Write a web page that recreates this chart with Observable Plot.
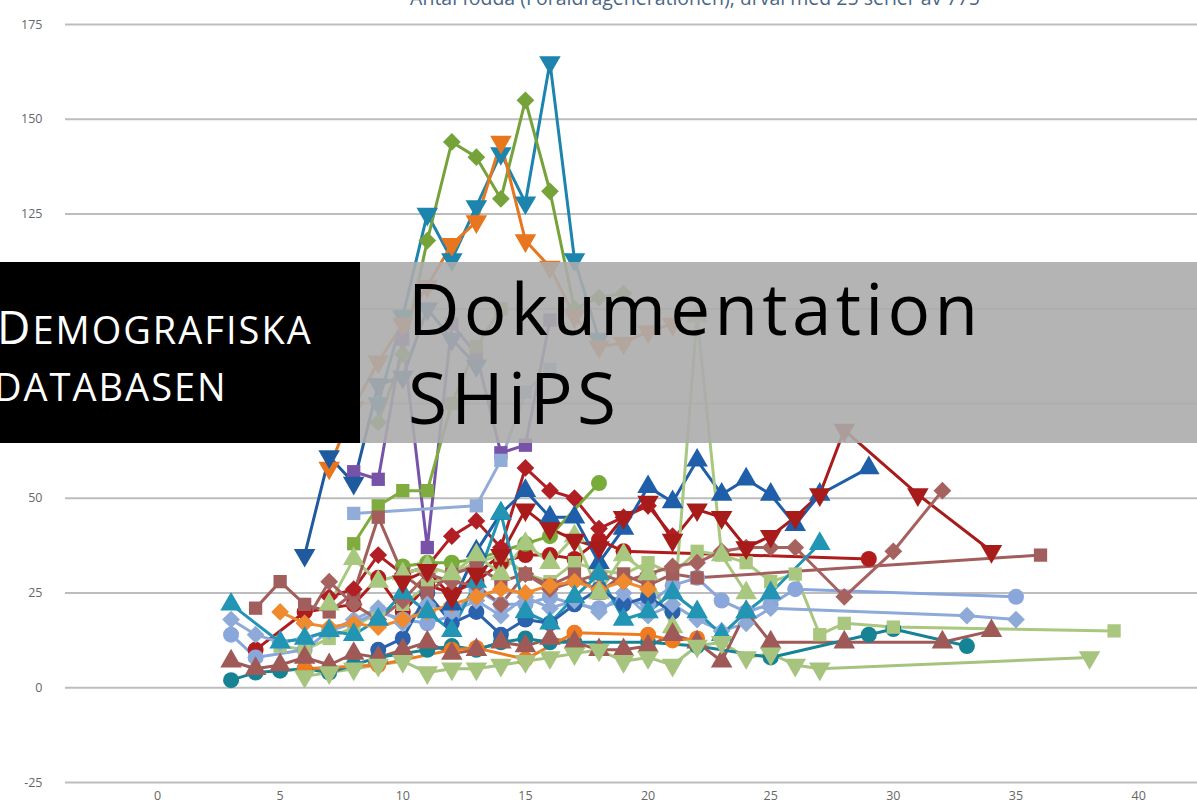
<!DOCTYPE html>
<html>
<head>
<meta charset="utf-8">
<script src="https://cdn.jsdelivr.net/npm/d3@7"></script>
<script src="https://cdn.jsdelivr.net/npm/@observablehq/plot@0.6"></script>
<style>
  html, body { margin: 0; padding: 0; background: #fff; }
  #wrap { position: relative; width: 1197px; height: 806px; overflow: hidden; font-family: "Open Sans", "DejaVu Sans", sans-serif; }
  #chart { position: absolute; left: 0; top: 0; }
  #title { position: absolute; left: 360px; width: 670px; top: -14px; text-align: center; font-size: 19.5px; color: #4a6684; white-space: nowrap; line-height: 1.2; }
  #black { position: absolute; left: 0; top: 262px; width: 360px; height: 181px; background: #000; }
  #grey { position: absolute; left: 360px; top: 262px; width: 837px; height: 181px; background: rgba(172,172,172,0.9); }
  .demo { position: absolute; color: #fff; font-family: "Open Sans", "DejaVu Sans", sans-serif; white-space: nowrap; letter-spacing: 2px; line-height: 0.8; }
  .big { position: absolute; color: #000; font-family: "Open Sans", "DejaVu Sans", sans-serif; white-space: nowrap; font-size: 71px; letter-spacing: 4.3px; line-height: 1; }
</style>
</head>
<body>
<div id="wrap">
  <div id="chart"></div>
  <div id="title">Antal födda (Föräldragenerationen), urval med 25 serier av 775</div>
  <div id="black"></div>
  <div id="grey"></div>
  <div class="demo" style="left:-3px; top:308px; font-size:38px;"><span style="font-size:46px">D</span>EMOGRAFISKA</div>
  <div class="demo" style="left:-6px; top:371px; font-size:38px;">DATABASEN</div>
  <div class="big" style="left:408px; top:272px;">Dokumentation</div>
  <div class="big" style="left:408px; top:361px;">SHiPS</div>
</div>
<script>
// ---- Data ----
const xTicks = [0, 5, 10, 15, 20, 25, 30, 35, 40];
const yTicks = [-25, 0, 25, 50, 75, 100, 125, 150, 175];

const seriesNames = ["s01","s02","s03","s04","s05","s06","s07","s08","s09","s10","s11","s12","s13",
                     "s14","s15","s16","s17","s18","s19","s20","s21","s22","s23","s24","s25"];
const seriesColors = ["#1c84ad","#76a23a","#e8761f","#1f5a9e","#7752a8","#92acd8","#b11f25","#a81b1b",
                      "#1f5ea8","#b01c1c","#79ab3a","#80ac3f","#a6c47e","#a9c77f","#a8c880","#8aa7dc",
                      "#8eaad9","#a15e5c","#a5625f","#9f5a58","#168394","#ee7b1f","#2295b4","#2a62ad","#f08a2e"];
const seriesShapes = ["down","diamond","down","down","square","square","diamond","down","up","circle",
                      "circle","square","down","square","up","circle","diamond","square","diamond","up",
                      "circle","circle","up","circle","diamond"];

const s01 = [[9,75],[10,98],[11,125],[12,113],[13,127],[14,141],[15,128],[16,165],[17,113],[18,92]];
const s02 = [[9,70],[10,88],[11,118],[12,144],[13,140],[14,129],[15,155],[16,131],[17,100],[18,103],[19,104]];
const s03 = [[7,58],[8,74],[9,86],[10,96],[11,106],[12,117],[13,123],[14,144],[15,118],[16,111],[17,98],[18,90],[19,91],[20,94],[21,96]];
const s04 = [[6,35],[7,61],[8,54],[9,80],[10,82],[11,100],[12,92],[13,85]];
const s05 = [[8,57],[9,55],[10,92],[11,37],[12,96],[13,88],[14,62],[15,64],[16,97]];
const s06 = [[8,46],[13,48],[14,60],[15,78],[16,84]];
const s07 = [[7,24],[8,26],[9,35],[10,30],[11,32],[12,40],[13,44],[14,37],[15,58],[16,52],[17,50],[18,42],[19,45],[20,48],[21,40]];
const s08 = [[10,28],[11,31],[12,24],[13,30],[14,35],[15,47],[16,42],[17,39],[18,37],[19,45],[20,49],[21,39],[22,47],[23,45],[24,37],[25,40],[26,45],[27,51],[28,68],[31,51],[34,36]];
const s09 = [[12,22],[13,36],[14,46],[15,52],[16,45],[17,45],[18,33],[19,42],[20,53],[21,49],[22,60],[23,51],[24,55],[25,51],[26,43],[27,51],[29,58]];
const s10 = [[4,10],[6,20],[8,22],[9,29],[10,20],[11,27],[12,25],[13,28],[14,33],[15,35],[16,35],[17,34],[18,39],[19,36],[29,34]];
const s11 = [[10,32],[11,33],[12,33],[13,34],[14,36],[15,38],[16,40],[18,54]];
const s12 = [[8,38],[9,48],[10,52],[11,52],[12,75],[13,90],[14,100]];
const s13 = [[6,3],[7,4],[8,5],[9,6],[10,7],[11,4],[12,5],[13,5],[14,6],[15,7],[16,8],[17,9],[18,10],[19,7],[20,8],[21,6],[22,11],[23,12],[24,8],[25,9],[26,6],[27,5],[38,8]];
const s14 = [[5,11],[6,10],[7,13],[8,16],[9,20],[10,22],[11,27],[12,30],[13,33],[14,35],[15,30],[16,28],[17,33],[18,31],[19,30],[20,33],[21,30],[22,36],[23,35],[24,33],[25,28],[26,30],[27,14],[28,17],[30,16],[39,15]];
const s15 = [[7,22],[8,34],[9,28],[10,30],[11,32],[12,30],[13,35],[14,30],[15,38],[16,33],[17,40],[18,25],[19,35],[20,30],[21,16],[22,98],[23,35],[24,25]];
const s16 = [[3,14],[4,8],[6,10],[7,15],[8,17],[9,20],[10,18],[11,17],[12,19],[13,26],[14,22],[15,22],[16,24],[17,22],[18,21],[19,23],[20,22],[21,27],[22,29],[23,23],[24,20],[25,22],[26,26],[35,24]];
const s17 = [[3,18],[4,14],[5,12],[6,13],[7,15],[8,18],[9,21],[10,17],[11,22],[12,20],[13,23],[14,19],[15,24],[16,21],[17,23],[18,20],[19,25],[20,19],[21,22],[22,18],[23,15],[24,17],[25,21],[33,19],[35,18]];
const s18 = [[4,21],[5,28],[6,22],[7,20],[8,25],[9,45],[10,30],[11,25],[12,30],[13,32],[14,28],[15,30],[16,27],[17,30],[18,25],[19,30],[20,27],[21,30],[22,29],[36,35]];
const s19 = [[6,17],[7,28],[8,22],[9,18],[10,23],[11,30],[12,28],[13,27],[14,22],[15,30],[16,26],[17,28],[18,30],[19,28],[20,30],[21,32],[22,33],[23,36],[24,37],[25,37],[26,37],[28,24],[30,36],[32,52]];
const s20 = [[3,7],[4,5],[5,6],[6,8],[7,6],[8,9],[9,8],[10,10],[11,12],[12,9],[13,10],[14,12],[15,11],[16,13],[17,12],[18,10],[19,10],[20,11],[21,14],[22,12],[23,7],[24,20],[25,12],[28,12],[32,12],[34,15]];
const s21 = [[3,2],[4,4],[5,4.5],[6,5],[7,4],[8,6],[9,8],[10,9],[11,10],[12,11],[13,10],[14,12],[15,13],[16,12],[17,12],[20,12],[22,11],[25,8],[29,14],[30,15.5],[33,11]];
const s22 = [[6,5],[9,6],[12,10],[13,10.5],[15,7.5],[17,14.5],[20,14],[21,12.5],[22,13]];
const s23 = [[3,22],[5,12],[6,13],[7,15],[8,14],[9,18],[10,25],[11,20],[12,15],[13,28],[14,46],[15,20],[16,17],[17,24],[18,30],[19,18],[20,20],[21,25],[22,20],[23,14],[24,20],[25,25],[27,38]];
const s24 = [[9,10],[10,13],[11,25],[12,17],[13,20],[14,14],[15,18],[16,17],[17,22],[18,26],[19,22],[20,24],[21,20]];
const s25 = [[5,20],[6,17],[7,16],[8,17],[9,16],[10,18],[11,20],[12,22],[13,24],[14,26],[15,25],[16,27],[17,28],[18,26],[19,28],[20,26]];

const seriesData = [s01,s02,s03,s04,s05,s06,s07,s08,s09,s10,s11,s12,s13,s14,s15,s16,s17,s18,s19,s20,s21,s22,s23,s24,s25];

// ---- Build a tidy table ----
const rows = [];
seriesData.forEach((pts, i) => {
  pts.forEach(([x, y]) => rows.push({
    series: seriesNames[i], color: seriesColors[i], shape: seriesShapes[i], x, y
  }));
});
const byShape = s => rows.filter(d => d.shape === s);

const chart = Plot.plot({
  width: 1197,
  height: 806,
  marginLeft: 65,
  marginRight: 0,
  marginTop: 24,
  marginBottom: 24,
  style: { fontFamily: "'Open Sans', 'DejaVu Sans', sans-serif", fontSize: "12.5px", color: "#666", background: "#fff" },
  x: { domain: [-3.75, 42.4], label: null },
  y: { domain: [-25, 175], label: null },
  color: { type: "identity" },
  marks: [
    Plot.gridY(yTicks, { stroke: "#bdbdbd", strokeOpacity: 1, strokeWidth: 2 }),
    Plot.axisY(yTicks, { tickSize: 0, tickPadding: 23, fill: "#666", label: null, tickFormat: d => String(d) }),
    Plot.axisX(xTicks, { tickSize: 0, tickPadding: 9, fill: "#666", label: null, tickFormat: d => String(d) }),
    Plot.line(rows, { x: "x", y: "y", z: "series", stroke: "color", strokeWidth: 3, curve: "linear" }),
    Plot.dot(byShape("circle"), { x: "x", y: "y", fill: "color", symbol: "circle", r: 8 }),
    Plot.dot(byShape("square"), { x: "x", y: "y", fill: "color", symbol: "square", r: 7.5 }),
    Plot.dot(byShape("diamond"), { x: "x", y: "y", fill: "color", symbol: "diamond2", r: 8 }),
    Plot.dot(byShape("up"), { x: "x", y: "y", fill: "color", symbol: "triangle", r: 8 }),
    Plot.dot(byShape("down"), { x: "x", y: "y", fill: "color", symbol: "triangle", rotate: 180, r: 8 })
  ]
});
document.getElementById("chart").appendChild(chart);
</script>
</body>
</html>
